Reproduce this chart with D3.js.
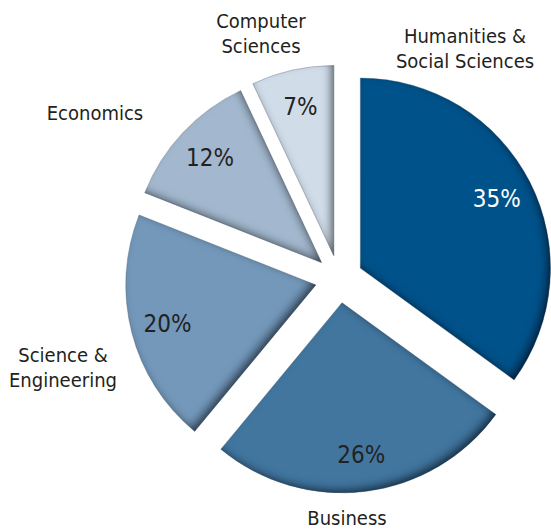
<!DOCTYPE html>
<html>
<head>
<meta charset="utf-8">
<script src="https://cdn.jsdelivr.net/npm/d3@7"></script>
<style>
  html, body { margin: 0; padding: 0; background: #fff; }
  svg { display: block; }
  text { font-family: "DejaVu Sans Condensed", "DejaVu Sans", sans-serif; font-stretch: condensed; }
</style>
</head>
<body>
<svg id="chart" width="551" height="531"></svg>
<script>
// Share of students by field, clockwise from 12 o'clock
const categories = ["Humanities & Social Sciences", "Business", "Science & Engineering", "Economics", "Computer Sciences"];
const values = [35, 26, 20, 12, 7];
const labelLines = [["Humanities &", "Social Sciences"], ["Business"], ["Science &", "Engineering"], ["Economics"], ["Computer", "Sciences"]];
const colors = ["#02528a", "#43769f", "#7398ba", "#a3b8ce", "#d0dde9"];
const valueTextColors = ["#ffffff", "#222222", "#222222", "#222222", "#222222"];

// Layout
const width = 551, height = 531;
const cx = 339, cy = 279;
const radius = 190;
const explode = 24;
const valueRadius = 153;
// Category label anchors (centre x, first baseline y)
const labelAnchors = [[465, 43], [347, 525], [63, 362], [95, 120], [261, 28]];
const lineGap = 25;

const svg = d3.select("#chart");

// Inner shadow: light from the upper left, dark falloff on lower-right edges
const defs = svg.append("defs");
const f = defs.append("filter").attr("id", "innerShadow")
  .attr("x", "-20%").attr("y", "-20%").attr("width", "140%").attr("height", "140%");
f.append("feComponentTransfer").attr("in", "SourceAlpha").attr("result", "inv")
  .append("feFuncA").attr("type", "table").attr("tableValues", "1 0");
f.append("feOffset").attr("in", "inv").attr("dx", -4).attr("dy", -4).attr("result", "off");
f.append("feGaussianBlur").attr("in", "off").attr("stdDeviation", 4.5).attr("result", "blur");
f.append("feFlood").attr("flood-color", "#000814").attr("flood-opacity", 0.85).attr("result", "col");
f.append("feComposite").attr("in", "col").attr("in2", "blur").attr("operator", "in").attr("result", "shadow");
f.append("feComposite").attr("in", "shadow").attr("in2", "SourceAlpha").attr("operator", "in").attr("result", "inner");
const merge = f.append("feMerge");
merge.append("feMergeNode").attr("in", "SourceGraphic");
merge.append("feMergeNode").attr("in", "inner");

const pie = d3.pie().sort(null).startAngle(0).endAngle(2 * Math.PI);
const arcs = pie(values);
const arc = d3.arc().innerRadius(0).outerRadius(radius);
const valueArc = d3.arc().innerRadius(valueRadius).outerRadius(valueRadius);

const g = svg.append("g").attr("transform", `translate(${cx},${cy})`);

const slice = g.selectAll("g.slice").data(arcs).join("g")
  .attr("class", "slice")
  .attr("transform", d => {
    const mid = (d.startAngle + d.endAngle) / 2;
    return `translate(${Math.sin(mid) * explode},${-Math.cos(mid) * explode})`;
  });

slice.append("path")
  .attr("d", arc)
  .attr("fill", (d, i) => colors[i])
  .attr("stroke", "rgba(90,105,125,0.45)")
  .attr("stroke-width", 0.7)
  .attr("filter", "url(#innerShadow)");

slice.append("text")
  .attr("transform", d => `translate(${valueArc.centroid(d)})`)
  .attr("text-anchor", "middle")
  .attr("dy", "0.36em")
  .attr("font-size", 24)
  .attr("fill", (d, i) => valueTextColors[i])
  .text(d => d.data + "%");

// Category labels
const lab = svg.append("g").selectAll("text").data(labelLines).join("text")
  .attr("text-anchor", "middle")
  .attr("font-size", 20)
  .attr("fill", "#231f20")
  .attr("x", (d, i) => labelAnchors[i][0])
  .attr("y", (d, i) => labelAnchors[i][1]);
lab.selectAll("tspan").data(d => d).join("tspan")
  .attr("x", function () { return d3.select(this.parentNode).attr("x"); })
  .attr("dy", (d, i) => i === 0 ? 0 : lineGap)
  .text(d => d);
</script>
</body>
</html>
